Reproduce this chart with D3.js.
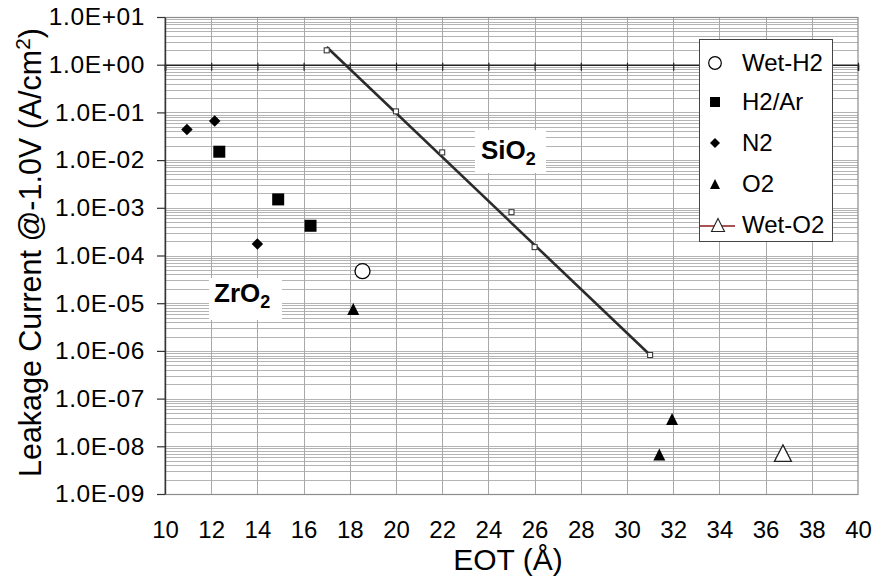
<!DOCTYPE html>
<html>
<head>
<meta charset="utf-8">
<script src="https://cdn.jsdelivr.net/npm/d3@7"></script>
<style>
  html, body { margin: 0; padding: 0; background: #fff; }
  svg { display: block; font-family: "Liberation Sans", Arial, sans-serif; }
</style>
</head>
<body>
<svg id="chart" width="875" height="582"></svg>
<script>
// ---- data ----
const seriesNames = ["Wet-H2", "H2/Ar", "N2", "O2", "Wet-O2"];
const wetH2X = [18.55];
const wetH2Y = [4.7e-5];
const h2arX = [12.35, 14.9, 16.3];
const h2arY = [1.5e-2, 1.5e-3, 4.2e-4];
const n2X = [10.95, 12.15, 14.0];
const n2Y = [4.4e-2, 6.6e-2, 1.75e-4];
const o2X = [18.15, 31.95, 31.4];
const o2Y = [7.6e-6, 3.75e-8, 6.7e-9];
const wetO2X = [36.75];
const wetO2Y = [7.2e-9];
const sio2X = [17, 20, 22, 25, 26, 31];
const sio2Y = [2.0, 0.105, 0.0145, 8.1e-4, 1.5e-4, 8.2e-7];
const fitX = [17, 31];
const fitY = [2.35, 8.2e-7];
const xTicks = [10, 12, 14, 16, 18, 20, 22, 24, 26, 28, 30, 32, 34, 36, 38, 40];
const yTicks = [1e-9, 1e-8, 1e-7, 1e-6, 1e-5, 1e-4, 1e-3, 1e-2, 1e-1, 1e0, 1e1];

const zip = (xs, ys) => xs.map((x, i) => ({x, y: ys[i]}));
const FONT = "'Liberation Sans', Arial, sans-serif";

// ---- layout ----
const L = 165, R = 858, T = 17, B = 494;
const svg = d3.select("#chart");
const x = d3.scaleLinear().domain([10, 40]).range([L, R]);
const y = d3.scaleLog().domain([1e-9, 10]).range([B, T]);

const fmtE = v => {
  const e = Math.round(Math.log10(v));
  const a = Math.abs(e);
  return "1.0E" + (e >= 0 ? "+" : "-") + (a < 10 ? "0" : "") + a;
};

// grid
const g = svg.append("g");
const minor = [];
for (let e = -9; e < 1; e++) for (let k = 1; k <= 9; k++) {
  const v = k * Math.pow(10, e);
  if (v > 1e-9) minor.push(v);
}
g.selectAll("line.h").data(minor).join("line")
  .attr("x1", L).attr("x2", R)
  .attr("y1", d => Math.round(y(d)) + 0.5).attr("y2", d => Math.round(y(d)) + 0.5)
  .attr("stroke", "#b4b4b4").attr("stroke-width", 1);
g.selectAll("line.v").data(xTicks.slice(1, -1)).join("line")
  .attr("y1", T).attr("y2", B)
  .attr("x1", d => Math.round(x(d)) + 0.5).attr("x2", d => Math.round(x(d)) + 0.5)
  .attr("stroke", "#a8a8a8").attr("stroke-width", 1);

// plot border
svg.append("rect").attr("x", L).attr("y", T + 0.5).attr("width", R - L).attr("height", B - T)
  .attr("fill", "none").attr("stroke", "#8c8c8c").attr("stroke-width", 1.2);

// x axis crossing at y=1
const xAxisCross = d3.axisBottom(x).tickValues(xTicks).tickSize(6).tickFormat("");
const xc = svg.append("g").attr("transform", `translate(0,${y(1)})`).call(xAxisCross);
xc.select(".domain").attr("stroke", "#222").attr("stroke-width", 1.6);
xc.selectAll(".tick line").attr("stroke", "#222").attr("stroke-width", 1.2).attr("y1", -2);

// x tick labels at bottom
const xAxisB = d3.axisBottom(x).tickValues(xTicks).tickSize(0).tickPadding(27).tickFormat(d3.format("d"));
const xb = svg.append("g").attr("transform", `translate(0,${B})`).call(xAxisB);
xb.select(".domain").remove();
xb.selectAll("text").attr("font-size", 24).attr("fill", "#000").attr("font-family", FONT);

// y axis
const yAxis = d3.axisLeft(y).tickValues(yTicks).tickSizeInner(8).tickSizeOuter(0).tickPadding(12).tickFormat(fmtE);
const ya = svg.append("g").attr("transform", `translate(${L},0)`).call(yAxis);
ya.select(".domain").attr("stroke", "#333").attr("stroke-width", 1.4);
ya.selectAll(".tick line").attr("stroke", "#333").attr("stroke-width", 1.2);
ya.selectAll("text").attr("font-size", 24.5).attr("fill", "#000").attr("font-family", FONT)
  .attr("letter-spacing", 0.6);

// axis titles
svg.append("text").attr("x", 508).attr("y", 570).attr("text-anchor", "middle")
  .attr("font-size", 30).text("EOT (Å)");
const yt = svg.append("text").attr("text-anchor", "start").attr("font-size", 28);
yt.append("tspan").text("Leakage Current @-1.0V (A/cm");
yt.append("tspan").attr("font-size", 19).attr("dy", -11).text("2");
yt.append("tspan").attr("dy", 11).text(")");
{
  // fit the rotated title so that it spans screen y 28..477 with baseline at x=41
  const bb = yt.node().getBBox();
  const target = 477 - 28;
  const k = target / bb.width;
  const fs = 28 * k;
  yt.attr("font-size", fs);
  yt.selectAll("tspan").filter((d, i) => i === 1).attr("font-size", 19 * k);
  const bb2 = yt.node().getBBox();
  // local x -> screen y = ty - localx ; want ty - bb2.x = 477
  const ty = 477 + bb2.x;
  yt.attr("transform", `translate(41,${ty}) rotate(-90)`);
}

// SiO2 fit line and markers
const line = d3.line().x(d => x(d.x)).y(d => y(d.y));
svg.append("path").datum(zip(fitX, fitY)).attr("d", line)
  .attr("fill", "none").attr("stroke", "#2b2b2b").attr("stroke-width", 2.6);
svg.selectAll("rect.sio2").data(zip(sio2X, sio2Y)).join("rect")
  .attr("x", d => x(d.x) - 2.5).attr("y", d => y(d.y) - 2.5)
  .attr("width", 5).attr("height", 5)
  .attr("fill", "#fff").attr("stroke", "#3a3a3a").attr("stroke-width", 1.1);

// marker drawing helpers
function tri(w, h) { return `M0,${-h/2}L${w/2},${h/2}L${-w/2},${h/2}Z`; }
function diamond(w, h) { return `M0,${-h/2}L${w/2},0L0,${h/2}L${-w/2},0Z`; }

const pts = svg.append("g");
pts.selectAll("path.n2").data(zip(n2X, n2Y)).join("path")
  .attr("transform", d => `translate(${x(d.x)},${y(d.y)})`)
  .attr("d", diamond(11.5, 11.5)).attr("fill", "#000");
pts.selectAll("rect.h2ar").data(zip(h2arX, h2arY)).join("rect")
  .attr("x", d => x(d.x) - 6).attr("y", d => y(d.y) - 6)
  .attr("width", 12).attr("height", 12).attr("fill", "#000");
pts.selectAll("circle.wh2").data(zip(wetH2X, wetH2Y)).join("circle")
  .attr("cx", d => x(d.x)).attr("cy", d => y(d.y)).attr("r", 7.5)
  .attr("fill", "#fff").attr("stroke", "#000").attr("stroke-width", 1.3);
pts.selectAll("path.o2").data(zip(o2X, o2Y)).join("path")
  .attr("transform", d => `translate(${x(d.x)},${y(d.y)})`)
  .attr("d", tri(12, 12)).attr("fill", "#000");
pts.selectAll("path.wo2").data(zip(wetO2X, wetO2Y)).join("path")
  .attr("transform", d => `translate(${x(d.x)},${y(d.y)})`)
  .attr("d", tri(17, 16.5)).attr("fill", "#fff").attr("stroke", "#222").attr("stroke-width", 1.3);

// labels SiO2, ZrO2
function chemLabel(bx, by, bw, bh, tx, ty, main) {
  svg.append("rect").attr("x", bx).attr("y", by).attr("width", bw).attr("height", bh).attr("fill", "#fff");
  const t = svg.append("text").attr("x", tx).attr("y", ty).attr("font-size", 26).attr("font-weight", "bold");
  t.append("tspan").text(main);
  t.append("tspan").attr("font-size", 18).attr("dy", 6).text("2");
}
chemLabel(475, 130, 71, 43, 481, 159, "SiO");
chemLabel(209, 278, 73, 42, 214, 302, "ZrO");

// legend
const lg = svg.append("g");
lg.append("rect").attr("x", 699.5).attr("y", 39.5).attr("width", 133).attr("height", 202)
  .attr("fill", "#fff").attr("stroke", "#444").attr("stroke-width", 1);
const ly = [63, 102, 143, 184, 225];
const lx = 715;
lg.append("circle").attr("cx", lx).attr("cy", ly[0]).attr("r", 6.3)
  .attr("fill", "#fff").attr("stroke", "#000").attr("stroke-width", 1.2);
lg.append("rect").attr("x", lx - 5).attr("y", ly[1] - 5).attr("width", 10).attr("height", 10).attr("fill", "#000");
lg.append("path").attr("transform", `translate(${lx},${ly[2]})`).attr("d", diamond(10, 10)).attr("fill", "#000");
lg.append("path").attr("transform", `translate(${lx},${ly[3]})`).attr("d", tri(10, 10)).attr("fill", "#000");
lg.append("line").attr("x1", 700).attr("x2", 735).attr("y1", ly[4] + 1).attr("y2", ly[4] + 1)
  .attr("stroke", "#8b1a1a").attr("stroke-width", 1.3);
lg.append("path").attr("transform", `translate(${lx + 3},${ly[4]})`).attr("d", tri(13, 13))
  .attr("fill", "#fff").attr("stroke", "#222").attr("stroke-width", 1.1);
lg.selectAll("text.leg").data(seriesNames).join("text")
  .attr("x", 742).attr("y", (d, i) => ly[i] + 8).attr("font-size", 24).text(d => d);
</script>
</body>
</html>
